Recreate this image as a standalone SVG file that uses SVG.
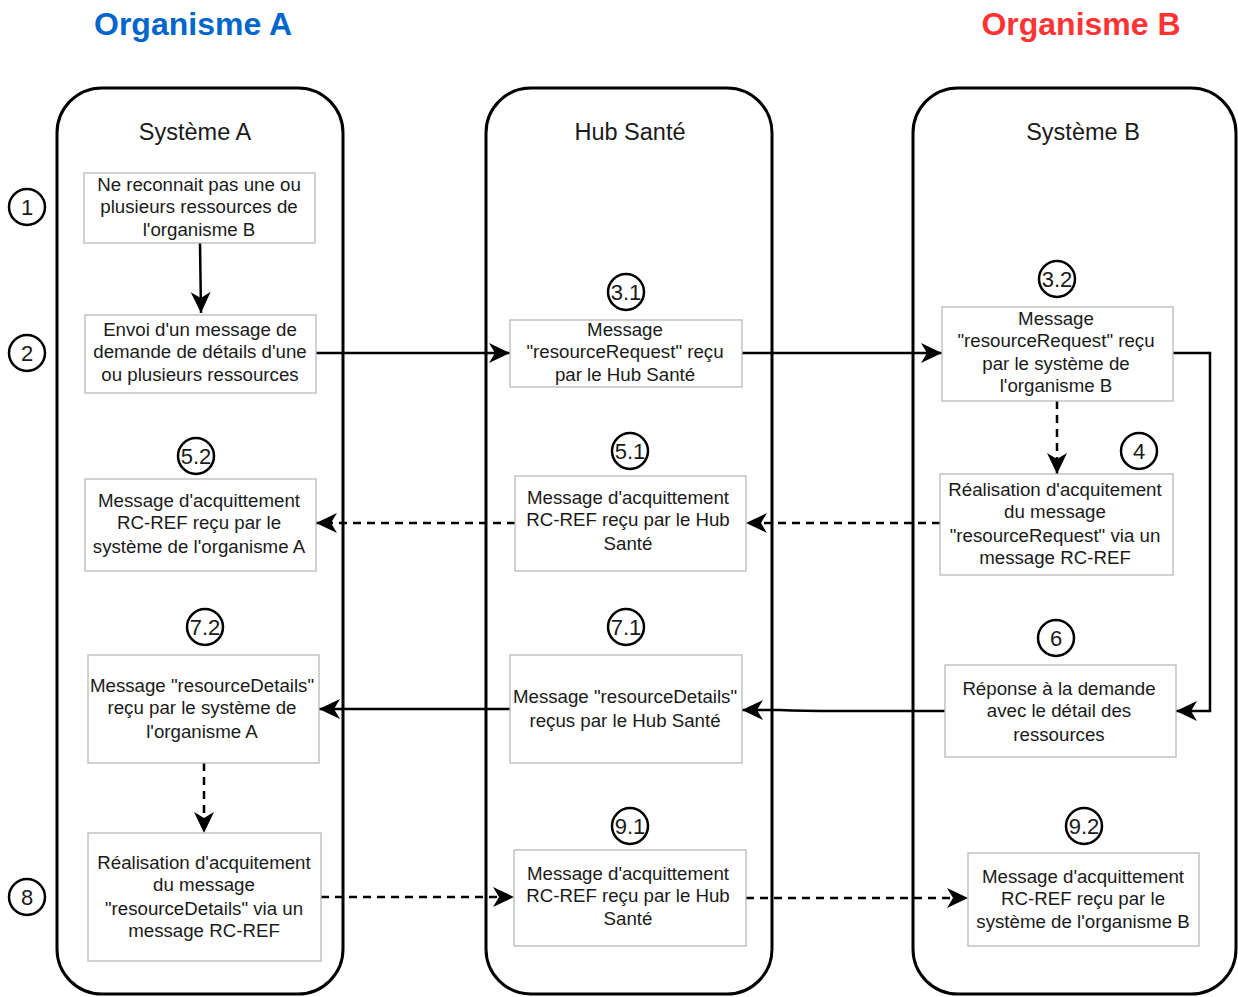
<svg xmlns="http://www.w3.org/2000/svg" width="1238" height="997" viewBox="0 0 1238 997">
<style>
.lane{fill:#fff;stroke:#000;stroke-width:3}
.box{fill:#fff;stroke:#b8b8b8;stroke-width:1.3}
.num{fill:#fff;stroke:#000;stroke-width:2.5}
.t{font-family:"Liberation Sans",Arial,sans-serif;font-size:18.7px;fill:#1a1a1a;text-anchor:middle}
.n{font-family:"Liberation Sans",Arial,sans-serif;font-size:22px;fill:#1a1a1a;text-anchor:middle}
.lt{font-family:"Liberation Sans",Arial,sans-serif;font-size:23.5px;fill:#1a1a1a;text-anchor:middle}
.org{font-family:"Liberation Sans",Arial,sans-serif;font-size:32px;font-weight:bold;text-anchor:middle}
.c{fill:none;stroke:#000;stroke-width:2.5}
.d{stroke-dasharray:8 6}
</style>
<defs>
<marker id="ah" markerUnits="userSpaceOnUse" markerWidth="24" markerHeight="24" viewBox="-22 -12 24 24" refX="0" refY="0" orient="auto">
<path d="M0,0 L-21,-10 L-15,0 L-21,10 Z" fill="#000"/>
</marker>
</defs>
<rect width="1238" height="997" fill="#fff"/>
<text class="org" x="193" y="35" fill="#0066CC">Organisme A</text>
<text class="org" x="1081" y="35" fill="#FF3333">Organisme B</text>

<g id="laneA"><rect class="lane" x="57" y="88" width="286" height="906" rx="45"/><text class="lt" x="195" y="140">Système A</text></g>
<g id="laneHub"><rect class="lane" x="486" y="88" width="286" height="906" rx="45"/><text class="lt" x="630" y="140">Hub Santé</text></g>
<g id="laneB"><rect class="lane" x="913" y="88" width="323" height="906" rx="45"/><text class="lt" x="1083" y="140">Système B</text></g>

<g id="connectors">
<path class="c" d="M200,243 L201,313" marker-end="url(#ah)"/>
<path class="c" d="M316,353 L510,353" marker-end="url(#ah)"/>
<path class="c" d="M742,353 L942,353" marker-end="url(#ah)"/>
<path class="c" d="M1173,353 L1210,353 L1210,711 L1176,711" marker-end="url(#ah)"/>
<path class="c d" d="M1057,401 L1057,474" marker-end="url(#ah)"/>
<path class="c d" d="M940,523 L746,523" marker-end="url(#ah)"/>
<path class="c d" d="M515,523 L316,523" marker-end="url(#ah)"/>
<path class="c" d="M945,711 L840,711 Q800,711 780,710 L742,710" marker-end="url(#ah)"/>
<path class="c" d="M510,709 L319,709" marker-end="url(#ah)"/>
<path class="c d" d="M204,763 L204,833" marker-end="url(#ah)"/>
<path class="c d" d="M321,897 L514,897" marker-end="url(#ah)"/>
<path class="c d" d="M746,898 L968,898" marker-end="url(#ah)"/>
</g>

<g id="n1"><rect class="box" x="84" y="173" width="231" height="70"/>
<text class="t"><tspan x="199" y="191">Ne reconnait pas une ou</tspan><tspan x="199" y="213">plusieurs ressources de</tspan><tspan x="199" y="236">l'organisme B</tspan></text></g>
<g id="n2"><rect class="box" x="85" y="315" width="231" height="78"/>
<text class="t"><tspan x="200" y="336">Envoi d'un message de</tspan><tspan x="200" y="358">demande de détails d'une</tspan><tspan x="200" y="381">ou plusieurs ressources</tspan></text></g>
<g id="n31"><rect class="box" x="510" y="320" width="232" height="67"/>
<text class="t"><tspan x="625" y="336">Message</tspan><tspan x="625" y="358">"resourceRequest" reçu</tspan><tspan x="625" y="381">par le Hub Santé</tspan></text></g>
<g id="n32"><rect class="box" x="942" y="307" width="231" height="94"/>
<text class="t"><tspan x="1056" y="325">Message</tspan><tspan x="1056" y="347">"resourceRequest" reçu</tspan><tspan x="1056" y="370">par le système de</tspan><tspan x="1056" y="392">l'organisme B</tspan></text></g>
<g id="n4"><rect class="box" x="940" y="474" width="233" height="101"/>
<text class="t"><tspan x="1055" y="496">Réalisation d'acquitement</tspan><tspan x="1055" y="518">du message</tspan><tspan x="1055" y="542">"resourceRequest" via un</tspan><tspan x="1055" y="564">message RC-REF</tspan></text></g>
<g id="n51"><rect class="box" x="515" y="476" width="231" height="95"/>
<text class="t"><tspan x="628" y="504">Message d'acquittement</tspan><tspan x="628" y="526">RC-REF reçu par le Hub</tspan><tspan x="628" y="550">Santé</tspan></text></g>
<g id="n52"><rect class="box" x="85" y="479" width="231" height="92"/>
<text class="t"><tspan x="199" y="507">Message d'acquittement</tspan><tspan x="199" y="529">RC-REF reçu par le</tspan><tspan x="199" y="553">système de l'organisme A</tspan></text></g>
<g id="n6"><rect class="box" x="945" y="665" width="231" height="92"/>
<text class="t"><tspan x="1059" y="695">Réponse à la demande</tspan><tspan x="1059" y="717">avec le détail des</tspan><tspan x="1059" y="741">ressources</tspan></text></g>
<g id="n71"><rect class="box" x="510" y="655" width="232" height="108"/>
<text class="t"><tspan x="625" y="703">Message "resourceDetails"</tspan><tspan x="625" y="727">reçus par le Hub Santé</tspan></text></g>
<g id="n72"><rect class="box" x="88" y="655" width="231" height="108"/>
<text class="t"><tspan x="202" y="692">Message "resourceDetails"</tspan><tspan x="202" y="714">reçu par le système de</tspan><tspan x="202" y="738">l'organisme A</tspan></text></g>
<g id="n8"><rect class="box" x="88" y="833" width="233" height="128"/>
<text class="t"><tspan x="204" y="869">Réalisation d'acquitement</tspan><tspan x="204" y="891">du message</tspan><tspan x="204" y="915">"resourceDetails" via un</tspan><tspan x="204" y="937">message RC-REF</tspan></text></g>
<g id="n91"><rect class="box" x="514" y="850" width="232" height="96"/>
<text class="t"><tspan x="628" y="880">Message d'acquittement</tspan><tspan x="628" y="902">RC-REF reçu par le Hub</tspan><tspan x="628" y="925">Santé</tspan></text></g>
<g id="n92"><rect class="box" x="968" y="853" width="231" height="93"/>
<text class="t"><tspan x="1083" y="883">Message d'acquittement</tspan><tspan x="1083" y="905">RC-REF reçu par le</tspan><tspan x="1083" y="928">système de l'organisme B</tspan></text></g>

<g id="c1"><circle class="num" cx="27" cy="207" r="18"/><text class="n" x="27" y="215">1</text></g>
<g id="c2"><circle class="num" cx="27" cy="353" r="18"/><text class="n" x="27" y="361">2</text></g>
<g id="c8"><circle class="num" cx="27" cy="897" r="18"/><text class="n" x="27" y="905">8</text></g>
<g id="c31"><circle class="num" cx="626" cy="292" r="18"/><text class="n" x="626" y="300">3.1</text></g>
<g id="c32"><circle class="num" cx="1057" cy="279" r="18"/><text class="n" x="1057" y="287">3.2</text></g>
<g id="c4"><circle class="num" cx="1139" cy="451" r="18"/><text class="n" x="1139" y="459">4</text></g>
<g id="c51"><circle class="num" cx="630" cy="451" r="18"/><text class="n" x="630" y="459">5.1</text></g>
<g id="c52"><circle class="num" cx="196" cy="456" r="18"/><text class="n" x="196" y="464">5.2</text></g>
<g id="c6"><circle class="num" cx="1056" cy="638" r="18"/><text class="n" x="1056" y="646">6</text></g>
<g id="c71"><circle class="num" cx="626" cy="627" r="18"/><text class="n" x="626" y="635">7.1</text></g>
<g id="c72"><circle class="num" cx="205" cy="627" r="18"/><text class="n" x="205" y="635">7.2</text></g>
<g id="c91"><circle class="num" cx="630" cy="826" r="18"/><text class="n" x="630" y="834">9.1</text></g>
<g id="c92"><circle class="num" cx="1084" cy="826" r="18"/><text class="n" x="1084" y="834">9.2</text></g>
</svg>
